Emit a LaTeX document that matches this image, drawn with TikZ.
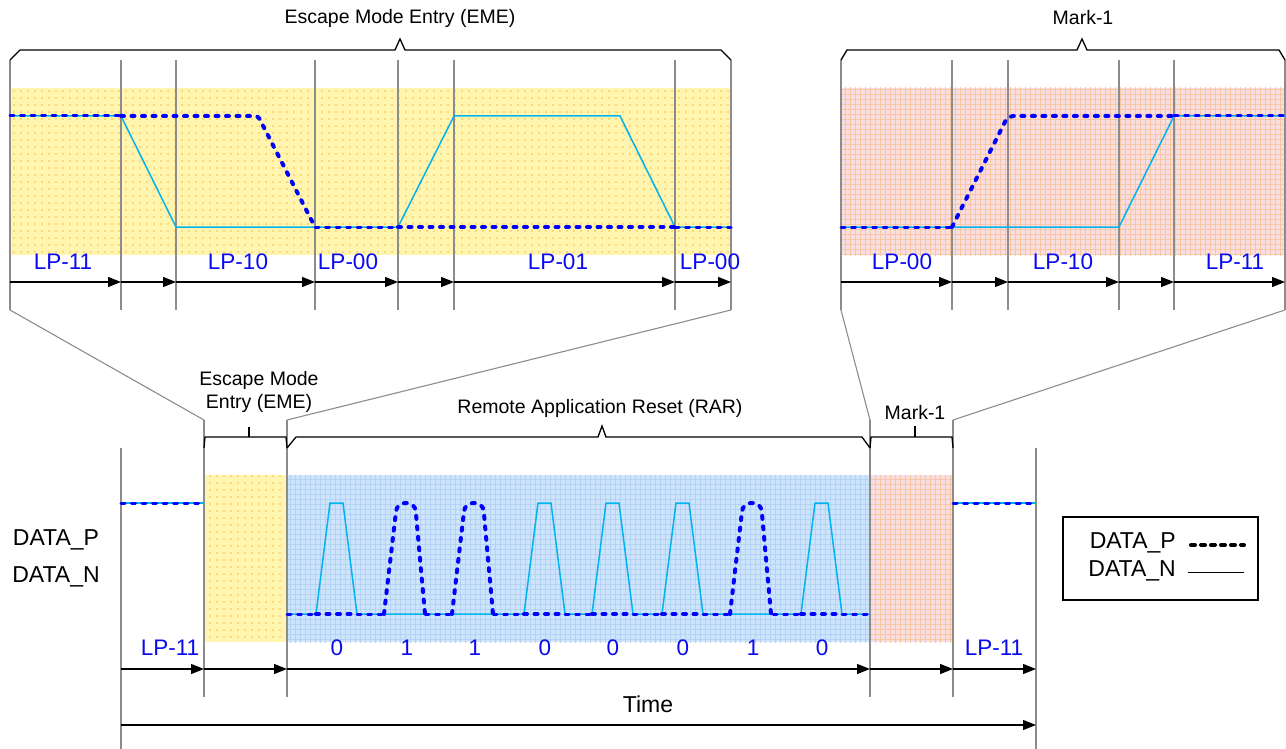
\documentclass[tikz,border=0pt]{standalone}
\usepackage{fontspec}
\setmainfont{Liberation Sans}
\usetikzlibrary{arrows.meta,patterns.meta}
\definecolor{cyanN}{RGB}{0,180,240}
\definecolor{blueP}{RGB}{0,0,255}
\definecolor{lbl}{RGB}{10,10,240}
\definecolor{ybg}{RGB}{255,245,175}
\definecolor{ydot}{RGB}{255,185,70}
\definecolor{bbg}{RGB}{205,228,250}
\definecolor{bgrid}{RGB}{178,210,246}
\definecolor{pbg}{RGB}{248,222,224}
\definecolor{pgrid}{RGB}{248,198,160}
\definecolor{gline}{RGB}{140,140,140}
\tikzset{
  vline/.style={draw=gline,line width=1.3pt},
  brace/.style={draw=black,line width=1.3pt,line join=miter},
  slant/.style={draw=gline,line width=1.1pt},
  sigN/.style={draw=cyanN,line width=1.5pt},
  sigPthick/.style={draw=blueP,line width=4pt,line cap=round,dash pattern=on 3pt off 7.5pt},
  sigPthin/.style={draw=blueP,line width=3pt,line cap=round,dash pattern=on 4pt off 6.5pt},
  tarr/.style={draw=black,line width=1.3pt,-{Triangle[length=13pt,width=10pt]}},
  lp/.style={text=lbl,font=\fontsize{22.5}{24}\selectfont,inner sep=0pt},
  btxt/.style={text=black,font=\fontsize{19.5}{23}\selectfont,inner sep=0pt,align=center},
  big/.style={text=black,font=\fontsize{23}{26}\selectfont,inner sep=0pt},
  yfill/.style={fill=ybg,postaction={pattern={Dots[distance=7pt,radius=0.8pt]},pattern color=ydot}},
  bfill/.style={fill=bbg,postaction={pattern={Hatch[distance=5pt,line width=0.5pt]},pattern color=bgrid}},
  pfill/.style={fill=pbg,postaction={pattern={Hatch[distance=5pt,line width=0.5pt]},pattern color=pgrid}},
}
\begin{document}
\begin{tikzpicture}[x=1pt,y=-1pt]
\useasboundingbox (0,0) rectangle (1286,749);
% ---------------- backgrounds
\path[yfill] (10,88) rectangle (731,255);
\path[pfill] (841,88) rectangle (1285,255);
\path[yfill] (204,475) rectangle (287,642);
\path[bfill] (287,475) rectangle (870,642);
\path[pfill] (870,475) rectangle (953,642);

% ---------------- top-left panel
\foreach \x in {10,121,176,315,398,454,675,731} \draw[vline] (\x,60) -- (\x,310);
\draw[brace] (10,60)--(20,50)--(395,50)--(400,39)--(405,50)--(721,50)--(731,60);
\node[btxt] (emeT) at (400,18) {Escape Mode Entry (EME)};
\draw[sigN] (10,116)--(121,116)--(176,227)--(398,227)--(454,116)--(620,116)--(675,227)--(731,227);
\draw[sigPthin] (10,116)--(121,116);
\draw[sigPthick,rounded corners=3pt] (121,116)--(258,116)--(315,227);
\draw[sigPthin] (315,227)--(398,227);
\draw[sigPthick] (398,227)--(675,227);
\draw[sigPthin] (675,227)--(731,227);
\node[lp] (t1) at (63,262) {LP-11};
\node[lp] (t2) at (238,262) {LP-10};
\node[lp] (t3) at (348,262) {LP-00};
\node[lp] (t4) at (558,262) {LP-01};
\node[lp] (t5) at (710,262) {LP-00};
\foreach \a/\b in {10/121,121/176,176/315,315/398,398/454,454/675,675/731}
  \draw[tarr] (\a,282) -- (\b,282);

% ---------------- top-right panel
\foreach \x in {841,952,1008,1119,1174,1285} \draw[vline] (\x,60) -- (\x,310);
\draw[brace] (841,60)--(847,50)--(1077,50)--(1082,39)--(1087,50)--(1279,50)--(1285,60);
\node[btxt] (m1T) at (1083,18) {Mark-1};
\draw[sigN] (841,227)--(1119,227)--(1174,116)--(1285,116);
\draw[sigPthin] (841,227)--(952,227);
\draw[sigPthick,rounded corners=5pt] (952,227)--(1008,116)--(1174,116);
\draw[sigPthin] (1174,116)--(1285,116);
\node[lp] (r1) at (902,262) {LP-00};
\node[lp] (r2) at (1063,262) {LP-10};
\node[lp] (r3) at (1235,262) {LP-11};
\foreach \a/\b in {841/952,952/1008,1008/1119,1119/1174,1174/1285}
  \draw[tarr] (\a,282) -- (\b,282);

% ---------------- zoom connectors
\draw[slant] (10,310) -- (204,420);
\draw[slant] (731,310) -- (287,420);
\draw[slant] (841,310) -- (870,420);
\draw[slant] (1285,310) -- (953,420);

% ---------------- bottom timeline
\draw[vline] (121,448) -- (121,749);
\draw[vline] (1036,448) -- (1036,749);
\foreach \x in {204,287,870,953} \draw[vline] (\x,420) -- (\x,697);

\draw[brace] (204,448)--(205,437)--(286,437)--(287,448);
\draw[brace] (249,437)--(249,427);
\node[btxt] (emeB) at (259,392) {Escape Mode\\Entry (EME)};
\draw[brace] (287,448)--(296,437)--(598,437)--(602,426)--(606,437)--(862,437)--(870,448);
\node[btxt] (rar) at (600,408) {Remote Application Reset (RAR)};
\draw[brace] (870,448)--(871,437)--(952,437)--(953,448);
\draw[brace] (915,437)--(915,426);
\node[btxt] (m1B) at (915,413) {Mark-1};

% signals: LP-11 before and after
\draw[sigN] (121,503)--(204,503);
\draw[sigPthin] (121,503)--(204,503);
\draw[sigN] (953,503)--(1036,503);
\draw[sigPthin] (953,503)--(1036,503);

% RAR DATA_N
\draw[sigN] (287,614)
  --(316,614)--(330,503)--(343,503)--(357,614)
  --(524,614)--(538,503)--(551,503)--(565,614)
  --(592,614)--(606,503)--(619,503)--(633,614)
  --(662,614)--(676,503)--(689,503)--(703,614)
  --(801,614)--(815,503)--(828,503)--(842,614)
  --(870,614);
% RAR DATA_P
\foreach \a/\b in {287/316,357/384,425/452,493/524,565/592,633/662,703/730,773/801,842/870}
  \draw[sigPthin] (\a,614) -- (\b,614);
\foreach \a/\b in {316/357,524/565,592/633,662/703,801/842}
  \draw[sigPthick] (\a,614) -- (\b,614);
\foreach \c in {407,475,753}
  \draw[sigPthick,rounded corners=8pt] (\c-23,614)--(\c-10,503)--(\c+8,503)--(\c+18,614);

\foreach \c/\v [count=\i] in {337/0,407/1,475/1,545/0,613/0,683/0,753/1,822/0}
  \node[lp] (bit\i) at (\c,648) {\v};
\node[lp] (b1) at (170,648) {LP-11};
\node[lp] (b2) at (994,648) {LP-11};
\foreach \a/\b in {121/204,204/287,287/870,870/953,953/1036}
  \draw[tarr] (\a,669) -- (\b,669);
\node[big] (time) at (648,704) {Time};
\draw[tarr] (121,725) -- (1036,725);

% labels left
\node[big] (dp) at (56,540) {DATA\_P};
\node[big] (dn) at (56,577) {DATA\_N};

% legend
\draw[black,line width=1.3pt] (1063,517) rectangle (1258,600);
\node[big,anchor=east] (ldp) at (1176,543) {DATA\_P};
\node[big,anchor=east] (ldn) at (1176,571) {DATA\_N};
\draw[black,line width=4pt,line cap=round,dash pattern=on 4pt off 6pt] (1191,545) -- (1244,545);
\draw[black,line width=1pt] (1188,572) -- (1244,572);
\end{tikzpicture}
\end{document}
